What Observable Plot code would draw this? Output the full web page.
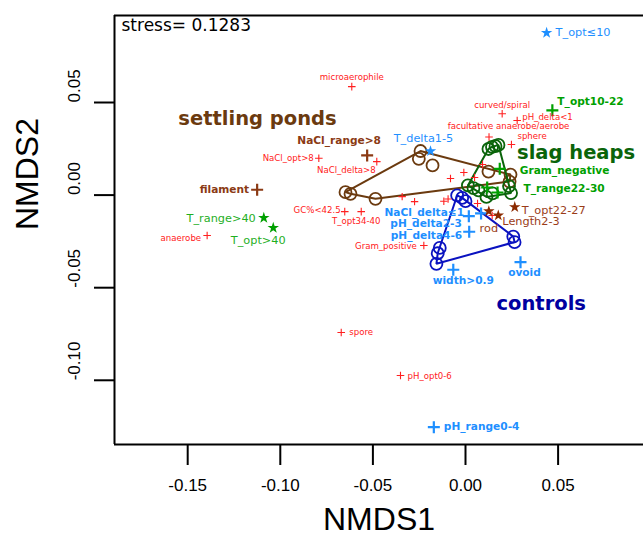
<!DOCTYPE html>
<html><head><meta charset="utf-8">
<script src="https://cdn.jsdelivr.net/npm/d3@7"></script>
<script src="https://cdn.jsdelivr.net/npm/@observablehq/plot@0.6"></script>
<style>body{margin:0;background:#fff}</style>
</head><body><div id="chart"></div>
<script>
// ---- data: site scores ----
const siteGroup = ["ponds","ponds","ponds","ponds","ponds","ponds","ponds","ponds","ponds",
  "slag","slag","slag","slag","slag","slag","slag","slag","slag","slag","slag",
  "control","control","control","control","control","control","control","control"];
const siteX = [-0.0648,-0.0621,-0.0486,-0.0243,-0.0252,-0.0178,0.0124,0.0243,0.0238,
  0.0124,0.0143,0.0162,0.0178,0.0013,0.0043,0.0113,0.0146,0.0235,0.0246,0.0070,
  -0.0045,-0.0018,0.0000,-0.0139,-0.0150,-0.0157,0.0258,0.0265];
const siteY = [0.0016,0.0007,-0.0020,0.0238,0.0196,0.0160,0.0127,0.0111,0.0073,
  0.0249,0.0260,0.0265,0.0271,0.0052,0.0038,-0.0010,0.0009,0.0049,0.0011,0.0025,
  -0.0002,-0.0015,-0.0033,-0.0285,-0.0314,-0.0371,-0.0224,-0.0254];

// ---- data: trait scores ----
const traitName = ["microaerophile","curved/spiral","pH_delta<1","facultative anaerobe/aerobe","sphere",
  "NaCl_opt>8","NaCl_delta>8","GC%<42.5","T_opt34-40","Gram_positive","anaerobe","spore","pH_opt0-6",
  "NaCl_range>8","filament","rod","Length2-3","T_opt22-27",
  "T_opt10-22","Gram_negative","T_range22-30","T_range>40","T_opt>40",
  "T_opt≤10","T_delta1-5","NaCl_delta≤1","pH_delta2-3","pH_delta4-6","width>0.9","ovoid","pH_range0-4"];
const traitX = [-0.0614,0.0198,0.0279,0.0127,0.0248,
  -0.0792,-0.0479,-0.0652,-0.0563,-0.0225,-0.1395,-0.0671,-0.0351,
  -0.0531,-0.1125,0.0126,0.0177,0.0266,
  0.0469,0.0185,0.0173,-0.1089,-0.1038,
  0.0438,-0.0189,0.0084,0.0018,0.0020,-0.0066,0.0297,-0.0171];
const traitY = [0.0586,0.0439,0.0403,0.0314,0.0273,
  0.0199,0.0181,-0.0089,-0.0089,-0.0272,-0.0218,-0.0742,-0.0974,
  0.0214,0.0029,-0.0087,-0.0110,-0.0065,
  0.0458,0.0142,0.0014,-0.0123,-0.0177,
  0.0876,0.0237,-0.0099,-0.0114,-0.0198,-0.0403,-0.0362,-0.1253];
const traitAssoc = ["none","none","none","none","none","none","none","none","none","none","none","none","none",
  "ponds","ponds","ponds","ponds","ponds",
  "slag","slag","slag","slag","slag",
  "control","control","control","control","control","control","control","control"];
const traitKind = ["minor","minor","minor","minor","minor","minor","minor","minor","minor","minor","minor","minor","minor",
  "key","key","star","star","star",
  "key","key","key","star","star",
  "star","star","key","key","key","key","key","key"];

// traits whose labels are hidden by overlap
const hiddenX = [-0.0342,-0.0275,-0.0117,-0.0094,-0.0081,-0.0009,0.0049,0.0092,0.0065,0.0144,0.0117];
const hiddenY = [-0.0008,-0.0035,-0.0033,-0.0021,0.0090,0.0122,0.0095,0.0165,-0.0045,-0.0110,0.0041];
const hiddenAssoc = ["none","none","none","none","none","none","none","none","none","none","slag"];

const groupName = ["settling ponds","slag heaps","controls"];
const groupKey = ["ponds","slag","control"];
const groupX = [-0.1123,0.0597,0.0409];
const groupY = [0.0414,0.0227,-0.0587];

const xTicks = [-0.15,-0.10,-0.05,0.00,0.05];
const yTicks = [-0.10,-0.05,0.00,0.05];
const stress = "0.1283";

// ---- styling / layout (not data) ----
const groupColor = {ponds:"#6B3A0F", slag:"#0A640A", control:"#0A12C0"};
const groupTextColor = {ponds:"#6B3A0F", slag:"#0A640A", control:"#0000A0"};
const traitColor = {none:"#ff2020", ponds:"#8B3A14", slag:"#00A000", control:"#1E8FFF"};
const starColor = {ponds:"#8B2A00", slag:"#00A000", control:"#1E8FFF"};
const starLabel = {ponds:"#9A3C18", slag:"#1FAF1F", control:"#1E8FFF"};
const place = {
  "microaerophile":["middle",0,-9.5], "curved/spiral":["middle",0,-8.5], "pH_delta<1":["start",5,-3],
  "facultative anaerobe/aerobe":["middle",19.5,-10.5], "sphere":["start",6,-8],
  "NaCl_opt>8":["end",-5,0], "NaCl_delta>8":["end",-1,9], "GC%<42.5":["end",-4,-1],
  "T_opt34-40":["middle",-5,10], "Gram_positive":["end",-7,1], "anaerobe":["end",-6,3],
  "spore":["start",8,0], "pH_opt0-6":["start",7,1],
  "NaCl_range>8":["middle",-28,-15], "filament":["end",-8,0],
  "rod":["middle",0,17], "Length2-3":["start",4,6], "T_opt22-27":["start",7,3],
  "T_opt10-22":["start",5,-9], "Gram_negative":["start",20,1.5], "T_range22-30":["start",26,-4],
  "T_range>40":["end",-8,0], "T_opt>40":["middle",-15,12],
  "T_opt≤10":["start",9,0], "T_delta1-5":["middle",-7,-13],
  "NaCl_delta≤1":["end",-17,-1], "pH_delta2-3":["end",-7,7], "pH_delta4-6":["end",-7,3.5],
  "width>0.9":["middle",10,11], "ovoid":["middle",4,10], "pH_range0-4":["start",10,-1]
};

const sites = siteX.map((x,i)=>({x, y:siteY[i], g:siteGroup[i]}));
const traits = traitName.map((n,i)=>({n, x:traitX[i], y:traitY[i], a:traitAssoc[i], k:traitKind[i]}));
const hidden = hiddenX.map((x,i)=>({x, y:hiddenY[i], a:hiddenAssoc[i]}));
const groups = groupName.map((n,i)=>({n, x:groupX[i], y:groupY[i], k:groupKey[i]}));

const plusSym = {draw(ctx, size){ const r = Math.sqrt(size/Math.PI); ctx.moveTo(-r,0); ctx.lineTo(r,0); ctx.moveTo(0,-r); ctx.lineTo(0,r); }};
const sans = "DejaVu Sans, Verdana, sans-serif";
const axisFont = "Liberation Sans, Arial, Helvetica, sans-serif";
const fmt = d => d.toFixed(2);

const marks = [];
// frame: left, top, bottom
marks.push(Plot.ruleX([-0.18952], {strokeWidth: 2}));
marks.push(Plot.ruleY([-0.13467, 0.09698], {strokeWidth: 2}));
// axes
marks.push(Plot.axisX({ticks: xTicks, tickSize: 21, tickPadding: 13, tickFormat: fmt, fontSize: 17, fontFamily: axisFont, label: null, strokeWidth: 2}));
marks.push(Plot.axisY({ticks: yTicks, tickSize: 20, tickFormat: () => "", label: null, strokeWidth: 2}));
marks.push(Plot.text(yTicks, {y: d => d, text: fmt, frameAnchor: "left", dx: -40, rotate: -90, fontSize: 17, fontFamily: axisFont}));
marks.push(Plot.text(["NMDS1"], {frameAnchor: "bottom", dy: 85, fontSize: 32, fontFamily: axisFont}));
marks.push(Plot.text(["NMDS2"], {frameAnchor: "left", dx: -87, rotate: -90, fontSize: 32, fontFamily: axisFont}));
marks.push(Plot.text([`stress= ${stress}`], {frameAnchor: "top-left", dx: 7, dy: 3, textAnchor: "start", lineAnchor: "top", fontSize: 17, fontFamily: sans}));

// hulls and sites
for (const k of groupKey) {
  const d = sites.filter(s => s.g === k);
  marks.push(Plot.hull(d, {x: "x", y: "y", stroke: groupColor[k], strokeWidth: 2}));
  marks.push(Plot.dot(d, {x: "x", y: "y", r: 6, stroke: groupColor[k], strokeWidth: 1.8, fill: "none"}));
}
// hidden traits
marks.push(Plot.dot(hidden.filter(d=>d.a==="none"), {x:"x", y:"y", symbol: plusSym, r: 3.7, stroke: traitColor.none, strokeWidth: 1.1, fill: "none"}));
marks.push(Plot.dot(hidden.filter(d=>d.a!=="none"), {x:"x", y:"y", symbol: plusSym, r: 6, stroke: d => traitColor[d.a], strokeWidth: 2.2, fill: "none"}));
// labelled traits
marks.push(Plot.dot(traits.filter(d=>d.k==="minor"), {x:"x", y:"y", symbol: plusSym, r: 3.8, stroke: traitColor.none, strokeWidth: 1.1, fill: "none"}));
marks.push(Plot.dot(traits.filter(d=>d.k==="key"), {x:"x", y:"y", symbol: plusSym, r: 6, stroke: d => traitColor[d.a], strokeWidth: 2.2, fill: "none"}));
marks.push(Plot.dot(traits.filter(d=>d.k==="star"), {x:"x", y:"y", symbol: "star", r: 3.6, fill: d => starColor[d.a], stroke: "none"}));

for (const t of traits) {
  const [anchor, dx, dy] = place[t.n];
  const minor = t.k === "minor", key = t.k === "key";
  marks.push(Plot.text([t], {x:"x", y:"y", text:"n", textAnchor: anchor, dx, dy,
    fill: minor ? traitColor.none : key ? traitColor[t.a] : starLabel[t.a],
    fontSize: minor ? 8.6 : key ? 10.6 : 11.3, fontWeight: key ? "bold" : "normal", fontFamily: sans}));
}
for (const g of groups) {
  marks.push(Plot.text([g], {x:"x", y:"y", text:"n", fill: groupTextColor[g.k], fontSize: 19.5, fontWeight: "bold", fontFamily: sans}));
}

const chart = Plot.plot({
  width: 643, height: 542,
  marginLeft: 114, marginRight: 0, marginTop: 15, marginBottom: 98,
  x: {domain: [-0.18952, 0.09611]},
  y: {domain: [-0.13467, 0.09698]},
  style: {background: "#fff", color: "black", fontFamily: axisFont},
  marks
});
document.getElementById("chart").appendChild(chart);
</script>
</body></html>
